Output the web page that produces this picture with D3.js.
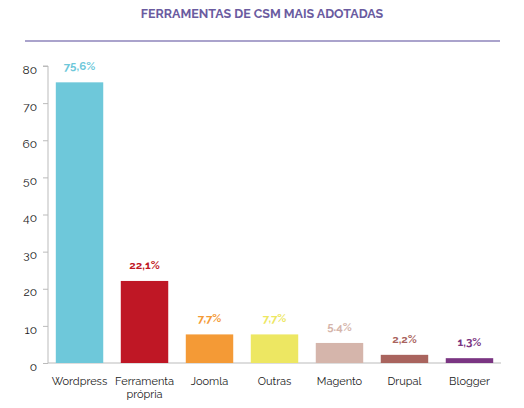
<!DOCTYPE html>
<html><head><meta charset="utf-8">
<script src="https://cdn.jsdelivr.net/npm/d3@7"></script>
<style>body{margin:0;background:#fff}text{font-family:Raleway,"Open Sans",sans-serif}</style>
</head><body><svg id="c" width="524" height="408"></svg>
<script>
var categories = ['Wordpress', 'Ferramenta\nprópria', 'Joomla', 'Outras', 'Magento', 'Drupal', 'Blogger'];
var values = [75.6, 22.1, 7.7, 7.7, 5.4, 2.2, 1.3];
var labels = ['75,6%', '22,1%', '7,7%', '7,7%', '5.4%', '2,2%', '1,3%'];
var colors = ['#6ec8da', '#bf1725', '#f49a36', '#ede762', '#d5b5ab', '#a9645e', '#7a3582'];
var yTicks = [0, 10, 20, 30, 40, 50, 60, 70, 80];

var svg = d3.select('#c');
svg.append('text').attr('x', 262).attr('y', 18).attr('text-anchor', 'middle')
  .attr('fill', '#6a5ba0').attr('font-size', 12.5).attr('font-weight', 700).text('FERRAMENTAS DE CSM MAIS ADOTADAS');
svg.append('line').attr('x1', 25).attr('x2', 500).attr('y1', 41).attr('y2', 41)
  .attr('stroke', '#aaa3cc').attr('stroke-width', 2);

var x = d3.scaleBand().domain(categories).range([48, 501]).paddingInner(0.27).paddingOuter(0.12);
var y = d3.scaleLinear().domain([0, 80]).range([363, 66]);

var ax = svg.append('g').attr('transform', 'translate(48,0)')
  .call(d3.axisLeft(y).tickValues(yTicks).tickSize(5).tickPadding(6));
ax.select('.domain').attr('stroke', '#bbb').attr('d', 'M-5,66H0V363');
ax.selectAll('.tick line').attr('stroke', '#bbb');
ax.selectAll('.tick text').attr('font-size', 12).attr('fill', '#222').attr('dy', '0.6em');

svg.append('line').attr('x1', 48).attr('x2', 501).attr('y1', 363).attr('y2', 363).attr('stroke', '#bbb');

svg.selectAll('rect.bar').data(values).join('rect').attr('class', 'bar')
  .attr('x', (d, i) => x(categories[i])).attr('width', x.bandwidth())
  .attr('y', d => y(d)).attr('height', d => y(0) - y(d))
  .attr('fill', (d, i) => colors[i]);

svg.selectAll('text.val').data(values).join('text').attr('class', 'val')
  .attr('x', (d, i) => x(categories[i]) + x.bandwidth() / 2)
  .attr('y', d => y(d) - 12).attr('text-anchor', 'middle')
  .attr('font-size', 11.5).attr('font-weight', 700)
  .attr('fill', (d, i) => colors[i]).text((d, i) => labels[i]);

svg.selectAll('text.cat').data(categories).join('text').attr('class', 'cat')
  .attr('x', d => x(d) + x.bandwidth() / 2).attr('y', 385)
  .attr('text-anchor', 'middle').attr('font-size', 11).attr('fill', '#222')
  .each(function (d) {
    var t = d3.select(this);
    d.split('\n').forEach((s, i) => t.append('tspan').attr('x', t.attr('x')).attr('dy', i ? 13 : 0).text(s));
  });
</script></body></html>
